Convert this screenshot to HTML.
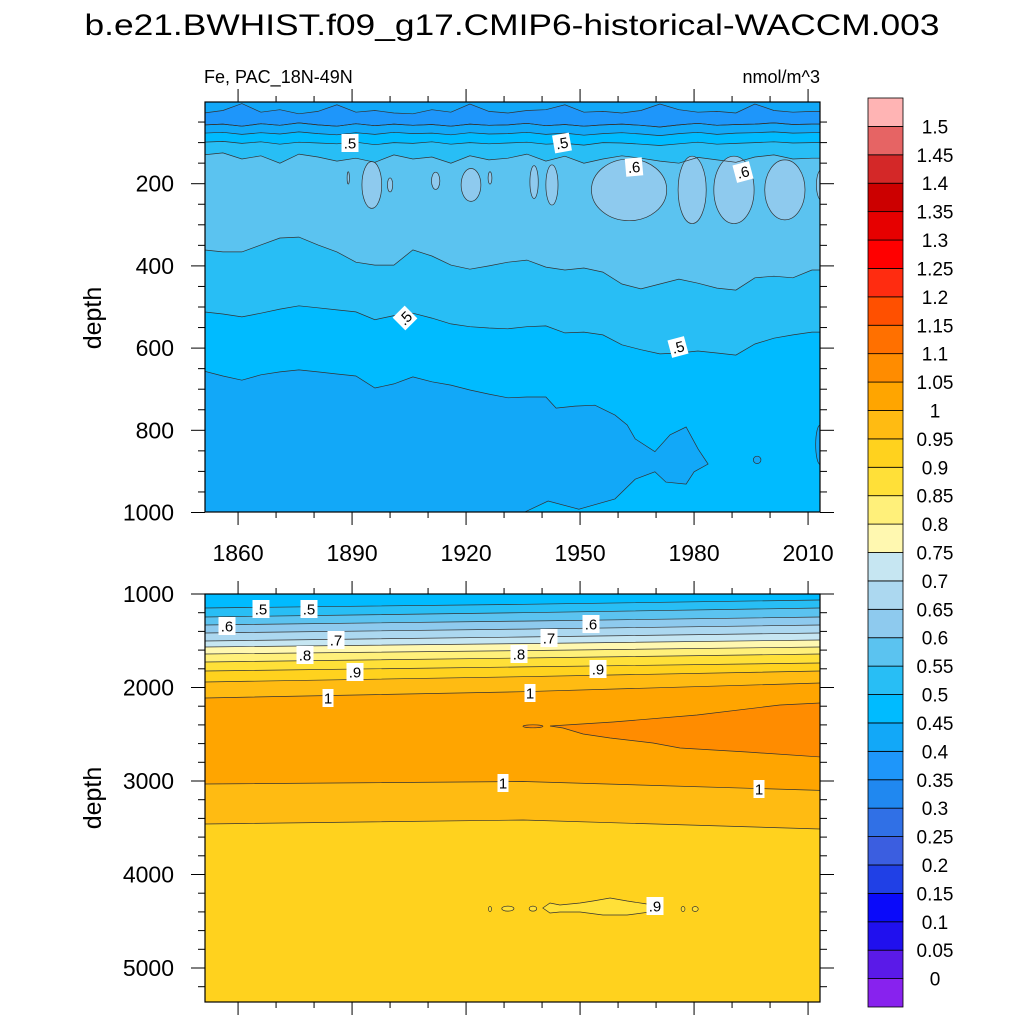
<!DOCTYPE html>
<html><head><meta charset="utf-8">
<style>
html,body{margin:0;padding:0;background:#fff;}
svg{display:block;font-family:"Liberation Sans",sans-serif;}
</style></head>
<body>
<svg id="chart" width="1024" height="1024" viewBox="0 0 1024 1024" xmlns="http://www.w3.org/2000/svg">
<defs>
<clipPath id="clipTop"><rect x="205" y="102" width="615" height="410"/></clipPath>
<clipPath id="clipBot"><rect x="205" y="594" width="615" height="408"/></clipPath>
</defs>
<text x="512" y="35" font-size="30" text-anchor="middle" textLength="855" lengthAdjust="spacingAndGlyphs">b.e21.BWHIST.f09_g17.CMIP6-historical-WACCM.003</text>
<text x="204" y="83" font-size="18">Fe, PAC_18N-49N</text>
<text x="820" y="83" font-size="18" text-anchor="end">nmol/m^3</text>
<text transform="translate(101,318) rotate(-90)" font-size="25" text-anchor="middle">depth</text>
<text transform="translate(101,798) rotate(-90)" font-size="25" text-anchor="middle">depth</text>
<g id="topPlot"></g>
<g id="botPlot"></g>
<g id="axes"></g>
<g id="cbar"></g>
</svg>
<script>
// ---------- colour levels ----------
const levelLabels = ["0","0.05","0.1","0.15","0.2","0.25","0.3","0.35","0.4","0.45","0.5","0.55","0.6","0.65","0.7","0.75","0.8","0.85","0.9","0.95","1","1.05","1.1","1.15","1.2","1.25","1.3","1.35","1.4","1.45","1.5"];
const levelColors = ["#8822ee","#5a1ae8","#2010ee","#0a0afa","#2040e6","#3b5ee0","#3070e6","#2088f0","#1e96fa","#12a8f8","#00bbff","#28bef5","#5bc3f0","#8ecaee","#acd8f0","#c6e6f2","#fff8b0","#fff07a","#ffe038","#ffd21e","#ffbb12","#ffa500","#ff8c00","#ff7000","#ff5000","#ff2c10","#ff0000","#e60000","#cc0000","#d42828","#e66464","#ffb4b4"];

// ---------- upper panel data (depth in m) ----------
const topYears = [1851,1856,1861,1866,1871,1876,1881,1886,1891,1896,1901,1906,1911,1916,1921,1926,1931,1936,1941,1946,1951,1956,1961,1966,1971,1976,1981,1986,1991,1996,2001,2006,2011];
const blobTop = [28,22,5,26,20,30,24,8,26,22,28,30,20,26,6,24,28,22,20,8,26,24,28,22,6,20,26,24,28,6,22,26,24];
const c040 = [57,55,60,54,58,52,57,60,54,59,55,58,56,60,55,58,57,53,59,56,60,57,55,58,62,57,53,58,56,55,52,56,55];
const c045 = [77,75,80,76,79,74,78,81,76,80,75,78,77,81,76,79,78,75,80,77,82,78,76,79,83,78,75,80,77,76,74,77,76];
const c050s = [99,97,102,98,104,99,101,103,99,105,100,102,98,104,100,103,101,99,104,102,106,100,101,104,107,103,99,104,102,100,98,101,100];
const c055s = [130,125,140,132,150,128,135,145,138,148,130,140,135,150,132,142,138,128,145,133,150,140,132,138,145,150,136,142,148,135,130,140,138];
const c055d = [361,366,366,349,332,330,349,366,391,398,398,361,376,398,408,400,391,386,403,410,405,415,444,456,444,432,442,454,459,429,425,429,410];
const c050d = [512,517,524,515,505,497,502,507,512,531,521,515,527,541,548,551,553,548,546,563,561,568,592,604,614,612,607,612,617,590,576,568,561];
const low040Years = [1851,1856,1861,1866,1871,1876,1881,1886,1891,1896,1901,1906,1911,1916,1921,1926,1931,1936,1941,1943.7,1948.7,1953.9,1959.2,1962.4,1964.5,1969.7,1973.7,1977.9,1981.1,1983.7,1980,1977.9,1972.6,1969.7,1964.5,1959.2,1949.7,1941.6,1935.2,1851];
const low040Depth = [656,668,678,665,658,653,658,663,668,697,687,670,682,690,702,712,721,719,719,746,741,739,763,787,821,852,811,792,846,882,901,931,926,901,919,967,992,972,1000,1000];
const patch040Year = [1996.6,2013.2];
const patch040Depth = [872,835];
const patch040HalfYr = [1.0,1.2];
const patch040HalfD = [9,48];
const patch060Year = [1895.2,1900,1889,1912,1921.3,1926.3,1937.9,1942.6,1962.9,1979.5,1990.5,2003.9,2013.5];
const patch060Depth = [203,203,186,193,203,186,196,203,215,215,215,215,203];
const patch060HalfYr = [2.6,0.7,0.3,1.1,2.6,0.5,1.1,1.6,9.9,3.7,5.3,5.3,1.3];
const patch060HalfD = [57,17,15,21,40,15,40,49,75,82,82,73,37];

// ---------- lower panel data ----------
const botYears = [1851,1935,2013.3];
const botLevels = [0.5,0.55,0.6,0.65,0.7,0.75,0.8,0.85,0.9,0.95,1.0];
const botLines = [
 [1150,1110,1064],[1246,1200,1150],[1332,1290,1246],[1417,1375,1332],[1503,1460,1417],
 [1567,1530,1492],[1642,1605,1567],[1727,1685,1642],[1824,1780,1738],[1941,1885,1824],[2112,2045,1952]];
const wedgeYears = [1942.1,1958.7,1980.8,2002.6,2013.3,2013.3,1993.9,1976.3,1969.2,1957.9,1950.8,1945.5];
const wedgeDepth = [2412,2369,2294,2187,2166,2743,2690,2647,2594,2540,2497,2433];
const blob105Year = [1937.6];
const blob105Depth = [2415];
const lower100 = [3032,3005,3100];
const lower095 = [3460,3417,3513];
const patch085Years = [1940.2,1942.1,1944.7,1950,1953.4,1957.9,1962.4,1967.6,1968.4,1962.4,1956,1950,1944.7,1942.1];
const patch085Depth = [4358,4305,4326,4305,4283,4251,4283,4315,4401,4433,4433,4401,4401,4412];
const small085Year = [1926.3,1931,1937.6,1977.1,1980.3];
const small085Depth = [4369,4365,4365,4369,4369];
const small085HalfYr = [0.4,1.6,1.0,0.5,0.8];

// ---------- scales ----------
const X0=205,X1=820,Y0top=102,Y1top=512,Y0bot=594,Y1bot=1002;
function xS(yr){return 205+(yr-1851.3)*3.8;}
function yT(d){return 101.5+d*0.411;}
function yB(d){return 594+(d-1000)*0.0935;}
const NS="http://www.w3.org/2000/svg";
function mk(tag,attrs,parent){const e=document.createElementNS(NS,tag);for(const k in attrs)e.setAttribute(k,attrs[k]);parent.appendChild(e);return e;}
const LINE="#333";

const topG=document.getElementById('topPlot');
const tg=mk('g',{'clip-path':'url(#clipTop)'},topG);
function linePts(years,vals,ys){return years.map((y,i)=>[xS(y),ys(vals[i])]);}
function extend(pts){const a=pts.slice();a.unshift([X0-5,a[0][1]]);a.push([X1+5,a[a.length-1][1]]);return a;}
function ptsStr(p){return p.map(q=>q[0].toFixed(1)+','+q[1].toFixed(1)).join(' ');}

let r=mk('rect',{x:X0,y:Y0top,width:615,height:410,fill:levelColors[12]},tg);


const shallow=[[c055s,11,'band-050-055-shallow'],[c050s,10,'band-045-050-shallow'],[c045,9,'band-040-045-shallow']];
shallow.forEach(s=>{
 const p=extend(linePts(topYears,s[0],yT));
 const all=[[X0-5,Y0top-5]].concat(p,[[X1+5,Y0top-5]]);
 const e=mk('polygon',{points:ptsStr(all),fill:levelColors[s[1]],stroke:'none'},tg);
 
 
});
{
 const a=extend(linePts(topYears,blobTop,yT)), b=extend(linePts(topYears,c040,yT)).reverse();
 const e=mk('polygon',{points:ptsStr(a.concat(b)),fill:levelColors[8],stroke:LINE,'stroke-width':0.7},tg);
 
 
}
const deep=[[c055d,11,'band-050-055-deep'],[c050d,10,'band-045-050-deep']];
deep.forEach(s=>{
 const p=extend(linePts(topYears,s[0],yT));
 const all=p.concat([[X1+5,Y1top+5],[X0-5,Y1top+5]]);
 const e=mk('polygon',{points:ptsStr(all),fill:levelColors[s[1]],stroke:'none'},tg);
 
 
});
{
 const p=linePts(low040Years,low040Depth,yT); p.unshift([X0-5,yT(low040Depth[0])]); p.push([X0-5,Y1top+5]);
 const e=mk('polygon',{points:ptsStr(p),fill:levelColors[9],stroke:LINE,'stroke-width':0.7},tg);
 
 
}
patch040Year.forEach((yr,i)=>{
 const e=mk('ellipse',{cx:xS(yr),cy:yT(patch040Depth[i]),rx:patch040HalfYr[i]*3.8,ry:patch040HalfD[i]*0.411,fill:levelColors[9],stroke:LINE,'stroke-width':0.7},tg);
 
 
});
patch060Year.forEach((yr,i)=>{
 const e=mk('ellipse',{cx:xS(yr),cy:yT(patch060Depth[i]),rx:patch060HalfYr[i]*3.8,ry:patch060HalfD[i]*0.411,fill:levelColors[13],stroke:LINE,'stroke-width':0.7},tg);
 
 
});
[c040,c045,c050s,c055s,c055d,c050d].forEach(arr=>{
 const e=mk('polyline',{points:ptsStr(extend(linePts(topYears,arr,yT))),fill:'none',stroke:LINE,'stroke-width':0.7},tg);
 
 
});

// ---------- lower panel ----------
const botG=document.getElementById('botPlot');
const bg=mk('g',{'clip-path':'url(#clipBot)'},botG);
r=mk('rect',{x:X0,y:Y0bot,width:615,height:408,fill:levelColors[10]},bg);


botLines.forEach((arr,i)=>{
 const lvl=Math.round(botLevels[i]*20);
 const p=extend(linePts(botYears,arr,yB));
 const all=p.concat([[X1+5,Y1bot+5],[X0-5,Y1bot+5]]);
 const e=mk('polygon',{points:ptsStr(all),fill:levelColors[lvl+1],stroke:'none'},bg);
 
 
});
{
 const e=mk('polygon',{points:ptsStr(linePts(wedgeYears,wedgeDepth,yB)),fill:levelColors[22],stroke:LINE,'stroke-width':0.7},bg);
 
 
 const b=mk('ellipse',{cx:xS(blob105Year[0]),cy:yB(blob105Depth[0]),rx:10,ry:1.5,fill:levelColors[22],stroke:LINE,'stroke-width':0.7},bg);
 
 
}
[[lower100,20,'band-095-100-deep'],[lower095,19,'band-090-095-deep']].forEach(s=>{
 const p=extend(linePts(botYears,s[0],yB));
 const all=p.concat([[X1+5,Y1bot+5],[X0-5,Y1bot+5]]);
 const e=mk('polygon',{points:ptsStr(all),fill:levelColors[s[1]],stroke:'none'},bg);
 
 
});
{
 const e=mk('polygon',{points:ptsStr(linePts(patch085Years,patch085Depth,yB)),fill:levelColors[18],stroke:LINE,'stroke-width':0.7},bg);
 
 
 small085Year.forEach((yr,i)=>{
  const s=mk('ellipse',{cx:xS(yr),cy:yB(small085Depth[i]),rx:small085HalfYr[i]*3.8,ry:2.5,fill:levelColors[18],stroke:LINE,'stroke-width':0.7},bg);
  
  
 });
}
botLines.concat([lower100,lower095]).forEach(arr=>{
 const e=mk('polyline',{points:ptsStr(extend(linePts(botYears,arr,yB))),fill:'none',stroke:LINE,'stroke-width':0.7},bg);
 
 
});

// ---------- contour labels ----------
const labels=[[topG,350,143,'.5',0],[topG,562,143,'.5',-10],[topG,634,167,'.6',-5],[topG,743,172,'.6',-15],[topG,405,318,'.5',-45],[topG,678,347,'.5',-15],
[botG,261,609,'.5',0],[botG,309,609,'.5',0],[botG,227,626,'.6',0],[botG,591,624,'.6',0],[botG,336,640,'.7',0],[botG,549,638,'.7',0],[botG,305,655,'.8',0],[botG,519,654,'.8',0],[botG,355,672,'.9',0],[botG,598,669,'.9',0],[botG,328,698,'1',0],[botG,530,693,'1',0],[botG,503,783,'1',0],[botG,759,789,'1',0],[botG,655,906,'.9',0]];
labels.forEach(l=>{
 const g=mk('g',{transform:`translate(${l[1]},${l[2]}) rotate(${l[4]})`},l[0]);
 
 
 const w=l[3].length>1?17:11;
 mk('rect',{x:-w/2,y:-9,width:w,height:18,fill:'#fff'},g);
 const t=mk('text',{x:0,y:5.5,'font-size':15,'text-anchor':'middle',fill:'#000'},g);
 t.textContent=l[3];
});

// ---------- axes ----------
const ax=document.getElementById('axes');
function ln(x1,y1,x2,y2,w,p,name){const e=mk('line',{x1,y1,x2,y2,stroke:'#000','stroke-width':w},p);return e;}
[[Y0top,Y1top],[Y0bot,Y1bot]].forEach((pr,pi)=>{
 const f=mk('rect',{x:X0,y:pr[0],width:615,height:pr[1]-pr[0],fill:'none',stroke:'#000','stroke-width':1.2},ax);
 
 
 for(let yr=1860;yr<=2010;yr+=10){
  const x=xS(yr),L=(yr-1860)%30===0?13:6;
  ln(x,pr[0],x,pr[0]-L,1,ax,'x-tick');
  ln(x,pr[1],x,pr[1]+L,1,ax,'x-tick');
 }
});
const xTickLabels=["1860","1890","1920","1950","1980","2010"];
xTickLabels.forEach(s=>{const t=mk('text',{x:xS(+s),y:561,'font-size':23,'text-anchor':'middle'},ax);t.textContent=s;});
const topYTicks=["200","400","600","800","1000"];
for(let d=50;d<=1000;d+=50){const y=yT(d),L=d%200===0?14:7;ln(X0,y,X0-L,y,1,ax,'y-tick');ln(X1,y,X1+L,y,1,ax,'y-tick');}
topYTicks.forEach(s=>{const t=mk('text',{x:174,y:yT(+s)+8,'font-size':23,'text-anchor':'end'},ax);t.textContent=s;});
const botYTicks=["1000","2000","3000","4000","5000"];
for(let d=1000;d<=5300;d+=200){const y=yB(d),L=d%1000===0?14:7;ln(X0,y,X0-L,y,1,ax,'y-tick');ln(X1,y,X1+L,y,1,ax,'y-tick');}
botYTicks.forEach(s=>{const t=mk('text',{x:174,y:yB(+s)+8,'font-size':23,'text-anchor':'end'},ax);t.textContent=s;});

// ---------- colorbar ----------
const cb=document.getElementById('cbar');
const cbTop=98,cbBot=1007,nb=levelColors.length,bh=(cbBot-cbTop)/nb;
levelColors.forEach((c,i)=>{
 const y=cbBot-(i+1)*bh;
 const e=mk('rect',{x:868,y:y,width:35,height:bh,fill:c,stroke:'#000','stroke-width':0.8},cb);
 
 
});
levelLabels.forEach((s,i)=>{
 const y=cbBot-(i+1)*bh;
 const t=mk('text',{x:935,y:y+7,'font-size':19,'text-anchor':'middle'},cb);
 t.textContent=s;
 
 
});
</script>
</body></html>
